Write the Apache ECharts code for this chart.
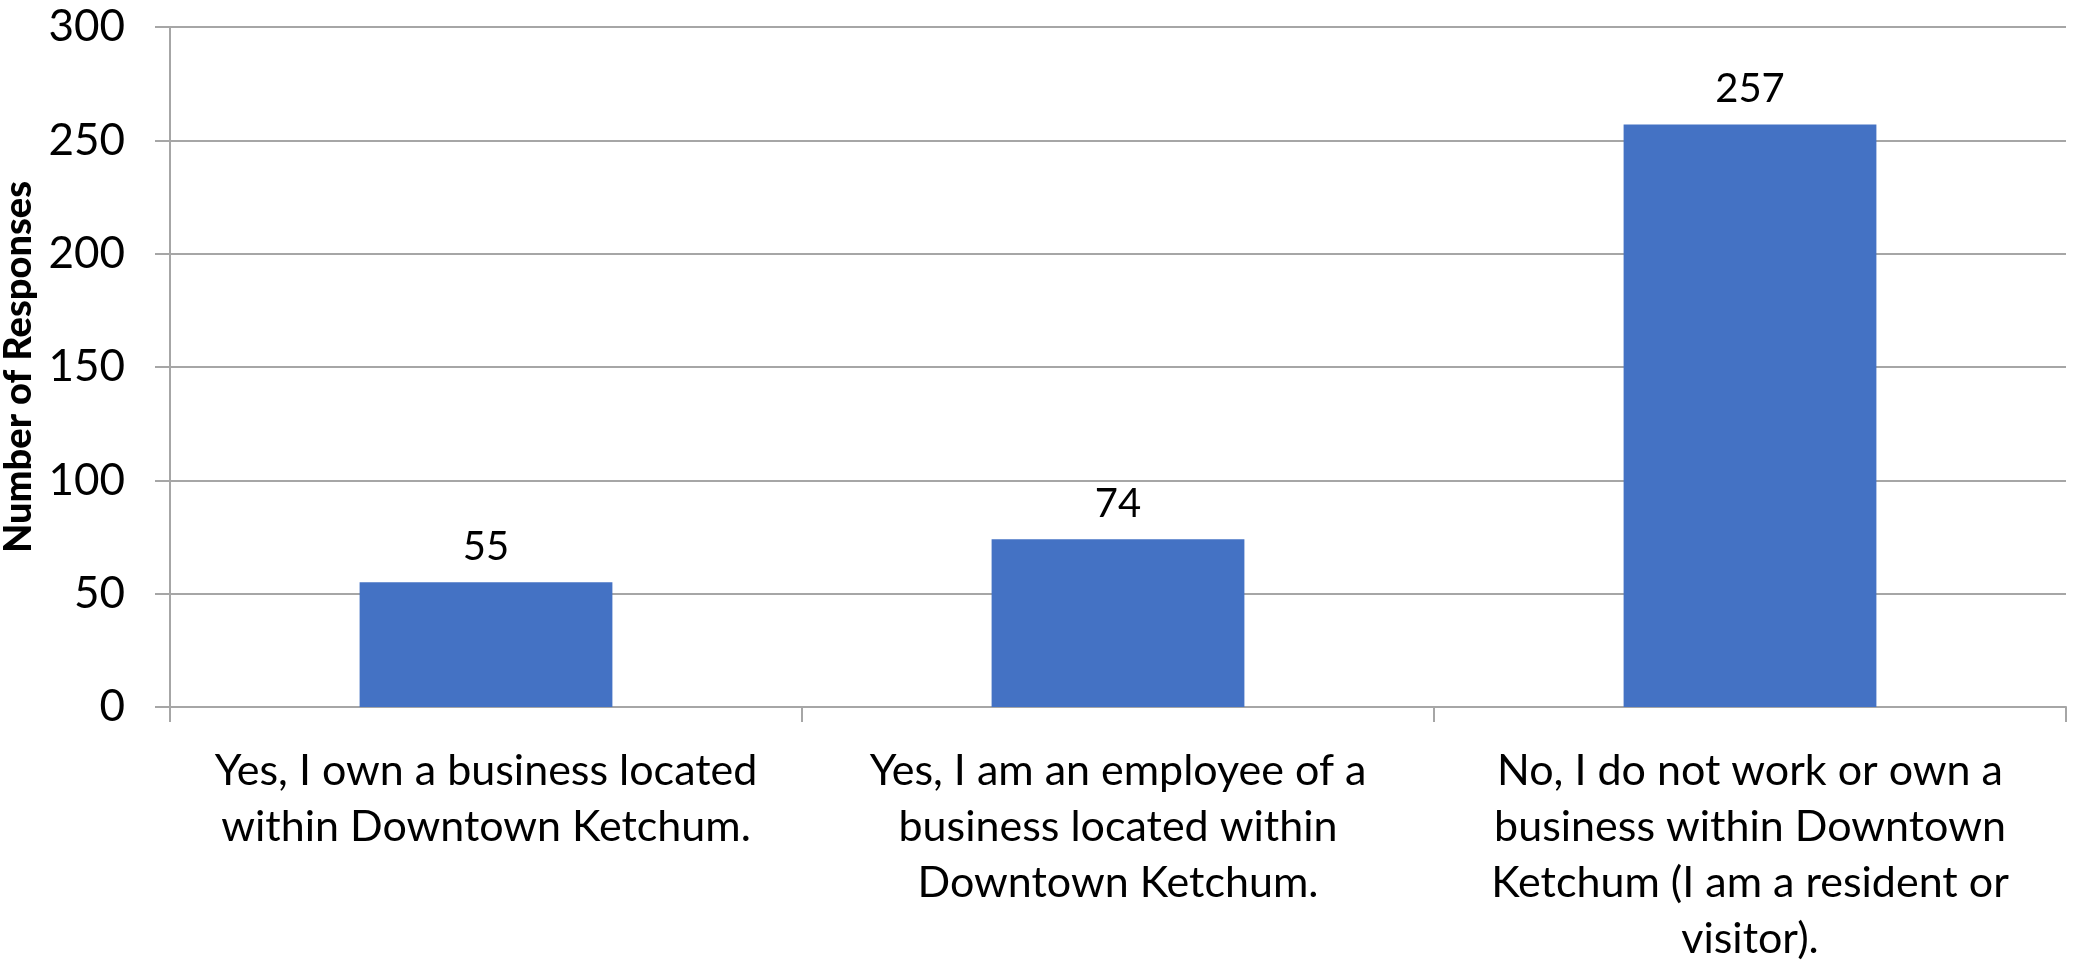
<!DOCTYPE html>
<html>
<head>
<meta charset="utf-8">
<script src="https://cdn.jsdelivr.net/npm/echarts@6/dist/echarts.min.js"></script>
<style>
  html, body { margin: 0; padding: 0; background: #fff; }
  #chart { width: 2074px; height: 966px; }
</style>
</head>
<body>
<div id="chart"></div>
<script>
const categories = [
  'Yes, I own a business located\nwithin Downtown Ketchum.',
  'Yes, I am an employee of a\nbusiness located within\nDowntown Ketchum.',
  'No, I do not work or own a\nbusiness within Downtown\nKetchum (I am a resident or\nvisitor).',
]
const responses = [55, 74, 257]
const yTicks = { min: 0, max: 300, interval: 50 }

const gridColor = '#a6a6a6'
const font = 'Lato, "Open Sans", sans-serif'

const chart = echarts.init(document.getElementById('chart'))
const option = {
  animation: false,
  backgroundColor: '#ffffff',
  grid: {
    left: 170,
    right: 8,
    top: 27,
    bottom: 259,
    containLabel: false,
    outerBoundsMode: 'none',
  },
  xAxis: {
    type: 'category',
    data: categories,
    axisLine: { lineStyle: { color: gridColor, width: 2 } },
    axisTick: { show: true, length: 15, lineStyle: { color: gridColor, width: 2 } },
    axisLabel: {
      interval: 0,
      margin: 36,
      color: '#000',
      fontFamily: font,
      fontSize: 43,
      lineHeight: 56,
    },
  },
  yAxis: {
    type: 'value',
    min: yTicks.min,
    max: yTicks.max,
    interval: yTicks.interval,
    name: 'Number of Responses',
    nameLocation: 'middle',
    nameGap: 124,
    nameTextStyle: {
      color: '#000',
      fontFamily: font,
      fontSize: 38,
      fontWeight: 900,
    },
    axisLine: { show: true, lineStyle: { color: gridColor, width: 2 } },
    axisTick: { show: true, length: 15, lineStyle: { color: gridColor, width: 2 } },
    splitLine: { lineStyle: { color: gridColor, width: 2 } },
    axisLabel: {
      margin: 45,
      color: '#000',
      fontFamily: font,
      fontSize: 44,
    },
  },
  series: [
    {
      type: 'bar',
      data: responses,
      barWidth: '40%',
      itemStyle: { color: '#4472C4' },
      label: {
        show: true,
        position: 'top',
        distance: 15,
        color: '#000',
        fontFamily: font,
        fontSize: 40,
      },
    },
  ],
}
chart.setOption(option)
</script>
</body>
</html>
